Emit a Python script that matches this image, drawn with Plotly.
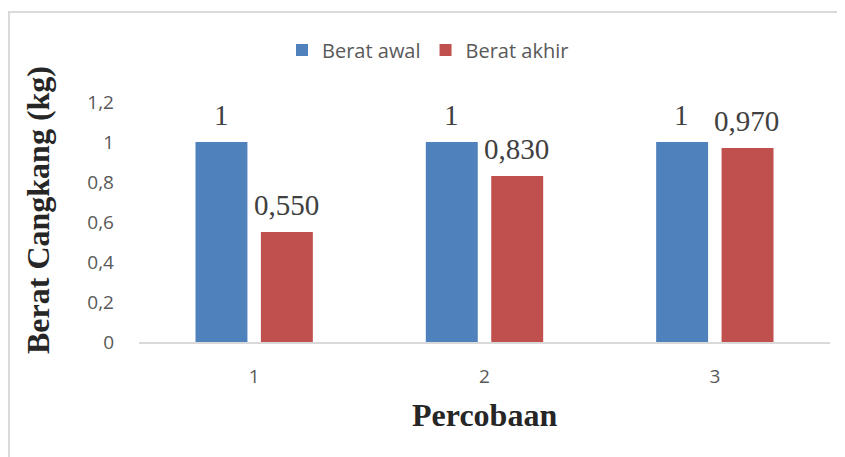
import plotly.graph_objects as go

categories = [1, 2, 3]
category_labels = ["1", "2", "3"]
berat_awal = [1.0, 1.0, 1.0]
berat_akhir = [0.55, 0.83, 0.97]
label_awal = ["1", "1", "1"]
label_akhir = ["0,550", "0,830", "0,970"]
series_names = ["Berat awal", "Berat akhir"]
y_ticks = [0, 0.2, 0.4, 0.6, 0.8, 1.0, 1.2]

# page body adds an 8px offset; screen = figure + OFF
OFF = 8
W, H = 845 - OFF, 457 - OFF
L, R, T, B = 139 - OFF, 845 - 830, 102 - OFF, 457 - 342
pw, ph = W - L - R, H - T - B

def px_x(p):
    return (p - OFF - L) / pw

def px_y(p):
    return (H - B - (p - OFF)) / ph

fig = go.Figure()
fig.add_trace(go.Bar(x=categories, y=berat_awal, name=series_names[0],
                     marker=dict(color="#4F81BD", line=dict(width=0))))
fig.add_trace(go.Bar(x=categories, y=berat_akhir, name=series_names[1],
                     marker=dict(color="#C0504D", line=dict(width=0))))

label_font = dict(family="Liberation Serif, Times New Roman, serif", size=29, color="#404040")
annotations = []
for c, v, t in zip(categories, berat_awal, label_awal):
    annotations.append(dict(x=c, y=v, xref="x", yref="y", text=t, showarrow=False,
                            xshift=-33, yshift=9, yanchor="bottom", font=label_font))
for c, v, t in zip(categories, berat_akhir, label_akhir):
    annotations.append(dict(x=c, y=v, xref="x", yref="y", text=t, showarrow=False,
                            xshift=32, yshift=9, yanchor="bottom", font=label_font))

title_font = dict(family="Liberation Serif, Times New Roman, serif", size=32, color="#262626")
annotations.append(dict(x=px_x(38), y=px_y(210), xref="paper", yref="paper",
                        text="<b>Berat Cangkang (kg)</b>", textangle=-90, showarrow=False,
                        xanchor="center", yanchor="middle", font=title_font))
annotations.append(dict(x=px_x(484), y=px_y(415), xref="paper", yref="paper",
                        text="<b>Percobaan</b>", showarrow=False,
                        xanchor="center", yanchor="middle", font=title_font))

fig.update_layout(
    width=W, height=H,
    margin=dict(l=L, r=R, t=T, b=B),
    paper_bgcolor="white", plot_bgcolor="white",
    separators=",.",
    barmode="group", bargap=0.432, bargroupgap=0.206,
    showlegend=True,
    legend=dict(orientation="h", xref="container", yref="container",
                x=(282 - OFF) / W, xanchor="left", y=1 - (50 - OFF) / H, yanchor="middle",
                font=dict(family="Open Sans, sans-serif", size=20, color="#595959"),
                bgcolor="rgba(0,0,0,0)", traceorder="normal"),
    annotations=annotations,
    shapes=[dict(type="rect", xref="paper", yref="paper",
                 x0=px_x(9), x1=1.2, y0=-0.8, y1=px_y(12),
                 line=dict(color="#d9d9d9", width=2), layer="below")],
    font=dict(family="Open Sans, sans-serif"),
)
fig.update_xaxes(range=[0.5, 3.5], tickvals=categories, ticktext=category_labels,
                 showgrid=False, zeroline=False, showline=True, linecolor="#d9d9d9",
                 linewidth=2, ticks="", ticklabelstandoff=16,
                 tickfont=dict(family="Open Sans, sans-serif", size=19, color="#595959"))
fig.update_yaxes(range=[0, 1.2], tickvals=y_ticks, showgrid=False, zeroline=False,
                 showline=False, ticks="", ticklabelstandoff=24,
                 tickfont=dict(family="Open Sans, sans-serif", size=19, color="#595959"))

fig.write_html("out.html")
